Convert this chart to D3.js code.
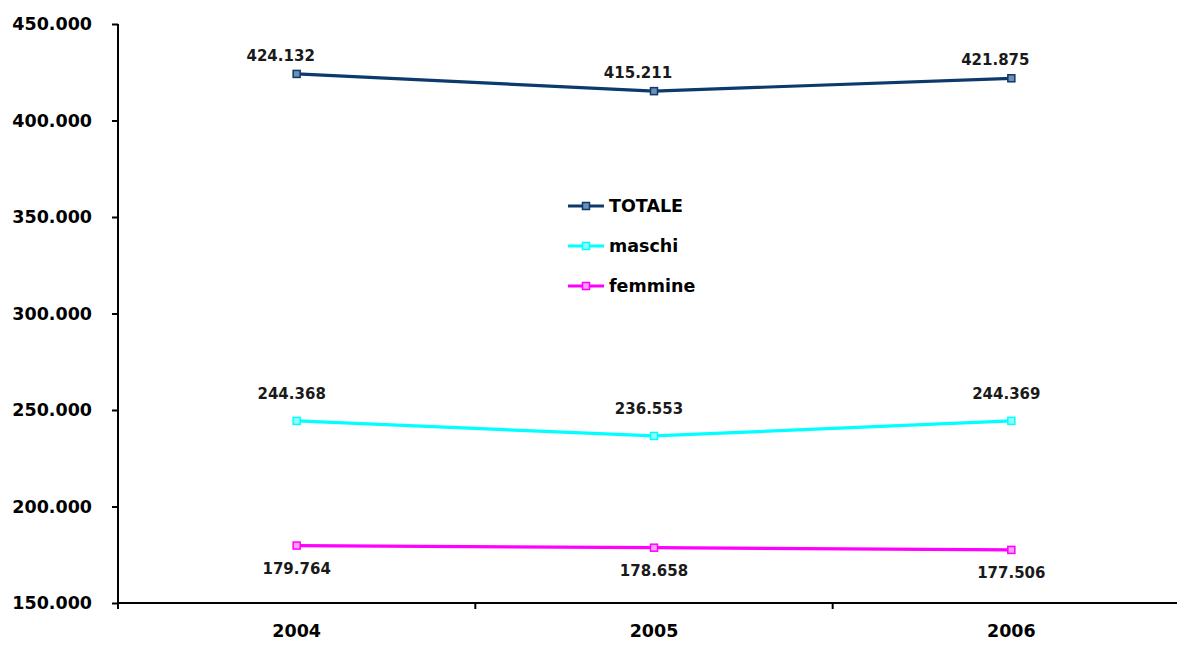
<!DOCTYPE html>
<html><head><meta charset="utf-8">
<script src="https://cdn.jsdelivr.net/npm/d3@7"></script>
<style>body{margin:0;background:#fff}</style>
</head><body>
<svg id="c" width="1177" height="645"></svg>
<script>
const years = ["2004", "2005", "2006"];
const totale = [424132, 415211, 421875];
const maschi = [244368, 236553, 244369];
const femmine = [179764, 178658, 177506];
const yTicks = [150000, 200000, 250000, 300000, 350000, 400000, 450000];
const seriesNames = ["TOTALE", "maschi", "femmine"];
const seriesColors = ["#0b3a6b", "#00ffff", "#ff00ff"];
const fillColors = ["#6f8fb3", "#8fffff", "#ff9fff"];

(function(){
const svg = d3.select("#c");
const FONT = "DejaVu Sans, Verdana, sans-serif";
const pL = 118, pR = 1177, pT = 24, pB = 603;
const x = d3.scaleBand().domain(years).range([pL, 1190]);
const y = d3.scaleLinear().domain([150000, 450000]).range([pB, pT]);
const fmt = v => d3.format(",")(v).replace(/,/g, ".");

// y axis
const ya = svg.append("g").attr("transform", `translate(${pL},0)`)
  .call(d3.axisLeft(y).tickValues(yTicks).tickSize(6).tickPadding(20).tickFormat(fmt));
ya.select(".domain").attr("stroke", "#000").attr("stroke-width", 2).attr("d", `M0,${pT}V${pB+6}`);
ya.selectAll(".tick line").attr("stroke", "#000").attr("stroke-width", 2);
ya.selectAll(".tick text").attr("font-family", FONT).attr("font-size", 17.5).attr("font-weight", "bold").attr("fill", "#000");

// x axis
const xa = svg.append("g").attr("transform", `translate(0,${pB})`)
  .call(d3.axisBottom(x).tickSize(0).tickPadding(22));
xa.select(".domain").attr("stroke", "#000").attr("stroke-width", 2).attr("d", `M${pL},0H${pR}`);
xa.selectAll(".tick text").attr("font-family", FONT).attr("font-size", 17.5).attr("font-weight", "bold").attr("fill", "#000");
// category separators
const seps = years.slice(1).map(d => x(d));
svg.append("g").selectAll("line").data(seps).join("line")
  .attr("x1", d => d).attr("x2", d => d).attr("y1", pB).attr("y2", pB + 6)
  .attr("stroke", "#000").attr("stroke-width", 2);

const series = [totale, maschi, femmine];
const line = d3.line().x((d, i) => x(years[i]) + x.bandwidth() / 2).y(d => y(d));
const labelDy = [-13, -22, 28];
const labelDx = [-16, -5, 0];
series.forEach((vals, s) => {
  svg.append("path").datum(vals).attr("d", line).attr("fill", "none")
    .attr("stroke", seriesColors[s]).attr("stroke-width", 3.2);
  svg.append("g").selectAll("rect").data(vals).join("rect")
    .attr("x", (d, i) => x(years[i]) + x.bandwidth() / 2 - 3.5)
    .attr("y", d => y(d) - 3.5).attr("width", 7).attr("height", 7)
    .attr("fill", fillColors[s]).attr("stroke", seriesColors[s]).attr("stroke-width", 1.5);
  svg.append("g").selectAll("text").data(vals).join("text")
    .attr("x", (d, i) => x(years[i]) + x.bandwidth() / 2 + labelDx[s])
    .attr("y", d => y(d) + labelDy[s])
    .attr("text-anchor", "middle")
    .attr("font-family", FONT).attr("font-size", 15).attr("font-weight", "bold")
    .attr("fill", "#1a1a1a").text(fmt);
});

// legend
const lg = svg.append("g");
seriesNames.forEach((n, i) => {
  const ly = 206 + i * 40;
  lg.append("line").attr("x1", 568).attr("x2", 604).attr("y1", ly).attr("y2", ly)
    .attr("stroke", seriesColors[i]).attr("stroke-width", 3.2);
  lg.append("rect").attr("x", 582.5).attr("y", ly - 3.5).attr("width", 7).attr("height", 7)
    .attr("fill", fillColors[i]).attr("stroke", seriesColors[i]).attr("stroke-width", 1.5);
  lg.append("text").attr("x", 609).attr("y", ly + 6).text(n)
    .attr("font-family", FONT).attr("font-size", 17.5).attr("font-weight", "bold").attr("fill", "#000");
});
})();
</script>
</body></html>
